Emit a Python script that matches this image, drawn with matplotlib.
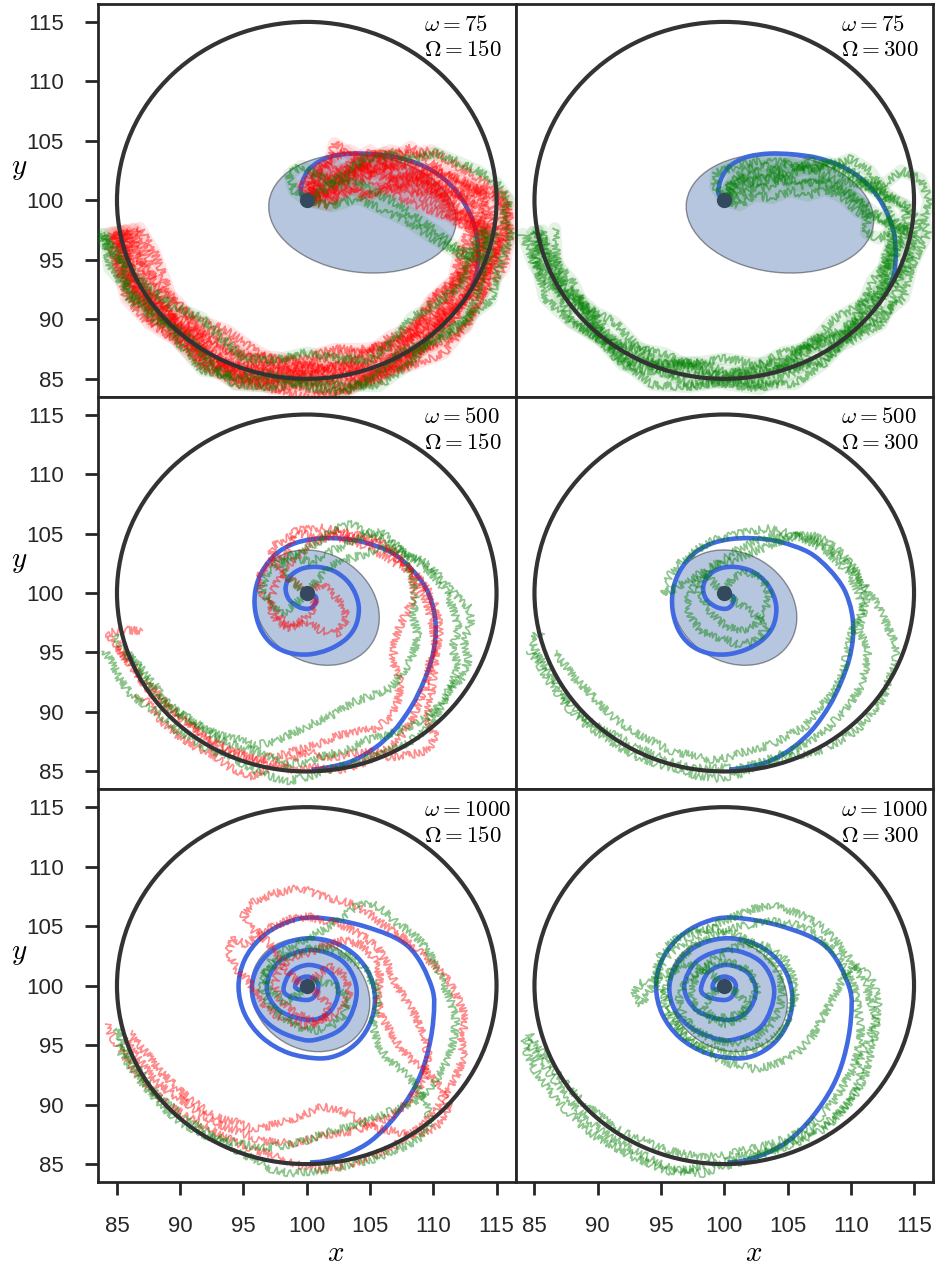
import numpy as np
import matplotlib.pyplot as plt
from matplotlib.patches import Ellipse, PathPatch
from matplotlib.path import Path

plt.rcParams['font.family'] = ['Liberation Sans', 'DejaVu Sans']
plt.rcParams['mathtext.fontset'] = 'cm'

# rows -> omega, columns -> Omega
omegas = [75, 500, 1000]
Omegas = [150, 300]

# target circle and start point
circ_x0, circ_y0, circ_r = 100.0, 100.0, 15.0
start_x, start_y = 100.0, 100.0
lim = (83.5, 116.5)
ticks = [85, 90, 95, 100, 105, 110, 115]

# mean trajectories (one per omega)
spiral75 = [(100.0, 100.0), (99.55, 100.56), (99.66, 101.54), (100.13, 102.53), (100.92, 103.23),
            (101.97, 103.70), (103.55, 103.93), (105.39, 103.87), (107.24, 103.59), (109.08, 102.95),
            (110.66, 101.96), (111.97, 100.56), (112.89, 98.88), (113.42, 97.19), (113.55, 95.51),
            (113.42, 93.83), (113.03, 92.70)]
spiral500 = [(100.0, 100.0), (100.7, 99.7), (100.64, 99.05), (100.17, 98.68), (99.38, 98.82),
             (98.59, 99.47), (98.33, 100.45), (98.72, 101.43), (99.64, 102.05), (100.83, 102.19),
             (102.14, 101.85), (103.20, 101.01), (103.86, 99.89), (104.12, 98.63), (103.86, 97.22),
             (103.07, 96.10), (101.75, 95.26), (100.17, 94.84), (98.59, 94.98), (97.28, 95.68),
             (96.36, 96.94), (95.91, 98.63), (95.96, 100.31), (96.49, 101.85), (97.54, 103.25),
             (98.86, 104.10), (100.43, 104.52), (102.28, 104.60), (104.4, 104.3), (106.71, 103.40),
             (108.29, 101.99), (109.47, 100.31), (110.08, 98.34), (110.18, 96.38), (109.87, 94.42),
             (109.21, 92.45), (108.29, 90.49), (106.97, 88.52), (105.39, 86.98), (103.55, 85.86),
             (101.71, 85.35), (100.39, 85.15)]
spiral1000 = [(100.0, 100.0), (99.5, 99.65), (99.08, 99.9), (99.35, 100.51), (100.0, 100.76),
              (100.65, 100.52), (100.92, 99.95), (100.65, 99.13), (100.0, 98.79), (98.70, 99.06),
              (98.16, 99.7), (98.76, 101.14), (100.2, 101.74), (101.83, 101.10), (102.5, 99.55),
              (101.83, 97.82), (100.2, 97.11), (97.82, 97.93), (96.84, 99.9), (97.88, 102.09),
              (100.4, 103.0), (102.91, 101.97), (103.95, 99.5), (102.97, 96.62), (100.6, 95.43),
              (98.71, 95.76), (97.11, 96.68), (96.04, 98.07), (95.66, 99.7), (96.01, 101.34),
              (97.02, 102.73), (98.52, 103.65), (100.3, 103.98), (102.25, 103.59), (103.90, 102.49),
              (105.0, 100.84), (105.39, 98.9), (105.06, 96.98), (104.10, 95.35), (102.68, 94.26),
              (101.0, 93.88), (98.55, 94.34), (96.48, 95.64), (95.10, 97.60), (94.61, 99.9),
              (95.07, 102.13), (96.38, 104.01), (98.34, 105.28), (100.66, 105.72), (104.6, 104.97),
              (108.03, 103.28), (109.87, 99.9), (110.0, 97.1), (109.47, 94.02), (108.55, 91.5),
              (106.97, 88.97), (105.13, 87.0), (103.29, 85.89), (101.45, 85.27), (100.26, 85.13)]
spirals = [spiral75, spiral500, spiral1000]

# spread ellipses: centre, width, height, angle
ell_x = [104.4, 100.8, 100.28]
ell_y = [98.9, 98.77, 99.21]
ell_w = [14.9, 10.6, 10.1]
ell_h = [9.9, 8.9, 8.8]
ell_ang = [-8, -42, -47.5]

# ---- sample paths ----
# top row: paths leave the centre, then hug the circle; that part is read as angle / radius
band_ang = [350, 340, 330, 320, 310, 300, 290, 280, 270, 260, 250, 240, 230, 220, 210, 200, 190]

red_a_start = [
    [(100, 100), (101.2, 101.6), (102.8, 102.6), (104.3, 101.8), (105.8, 102.9), (107.2, 101.9), (108.8, 101.6), (110.5, 100.6), (112.3, 99.2)],
    [(100, 100), (102, 100.8), (103.5, 103.2), (105, 104.2), (106.5, 102.8), (108, 103.2), (109.5, 102.5), (111.2, 101.8), (113, 100.8), (114.5, 99.5)],
    [(100, 100), (101.5, 100.5), (103, 101.5), (104.5, 100.3), (106, 101), (107.5, 100.2), (109, 99.5), (110.8, 98.8), (112.8, 98.5)],
    [(100, 100), (100.5, 101.8), (101.8, 103.3), (102.2, 104.8), (103.8, 103.6), (105.2, 102.2), (106.8, 103.4), (108.2, 104.5), (109.8, 103.2), (111.2, 102.2), (112.8, 101.4), (114, 100.5)],
    [(100, 100), (101.8, 99.6), (103.2, 100.8), (104.8, 102), (106.2, 100.8), (107.8, 101.4), (109.2, 100.2), (110.6, 99.6), (111.8, 98.2), (113.4, 97.6)],
    [(100, 100), (100.8, 101), (102.2, 101.8), (103.6, 103), (105, 102.6), (106.4, 101.6), (108, 100.6), (109.6, 100.8), (111.2, 100.4), (112.6, 100.6), (114.2, 101), (115.4, 100)],
    [(100, 100), (99.6, 101.2), (100.6, 102.4), (102, 103.6), (103.4, 104.2), (104.8, 103.4), (106.2, 104), (107.6, 103.2), (109, 102.4), (110.2, 101.2), (111.2, 99.8), (112.2, 98.4)],
    [(100, 100), (101.4, 100.2), (102.6, 101.2), (104, 102.4), (105.6, 103.2), (107, 102.4), (108.6, 102), (110, 102.6), (111.6, 102), (113, 101.2), (114.6, 100.4), (116, 99.4)],
    [(100, 100), (100.4, 101), (101.4, 102), (102.8, 101.6), (104.2, 102.6), (105.6, 103.6), (107, 103), (108.4, 102.2), (110, 101.6), (111.6, 100.8), (113, 99.8)],
    [(100, 100), (101.6, 101.2), (103.2, 102), (104.6, 103), (106, 102.2), (107.6, 101.2), (109.2, 101.8), (110.8, 101.2), (112.4, 100.2), (114, 99.2)],
    [(100, 100), (101, 100.6), (102.2, 100.2), (103.6, 101), (105, 100.4), (106.6, 101.4), (108, 102), (109.6, 101), (111, 99.8), (112.4, 98.8), (113.6, 98)],
    [(100, 100), (100.6, 102), (102, 103), (103.4, 102.4), (105, 103.6), (106.6, 104.2), (108.2, 103.8), (109.8, 104.2), (111.4, 103.2), (113, 102.2), (114.6, 101.2), (115.8, 100.2)],
]
red_a_rad = [
    [14.6, 14.0, 14.8, 15.4, 14.6, 13.8, 14.5, 15.2, 14.6, 14.0, 14.8, 15.5, 14.9, 14.2, 14.8, 15.2, 15.0],
    [15.5, 15.9, 15.2, 14.6, 15.3, 16.0, 15.6, 14.9, 15.4, 16.1, 15.5, 14.8, 15.4, 16.0, 15.4, 15.0, 15.6],
    [13.8, 13.3, 13.9, 14.3, 13.6, 13.2, 13.8, 14.4, 13.9, 13.4, 13.9, 14.3, 13.7, 13.3, 13.8, 14.2, 14.0],
    [14.2, 14.9, 15.6, 14.8, 14.1, 14.7, 15.5, 16.0, 15.2, 14.5, 15.1, 15.8, 15.1, 14.4, 15.0, 15.7, 15.2],
    [15.0, 14.3, 13.6, 14.2, 15.0, 15.6, 14.9, 14.1, 14.7, 15.4, 16.0, 15.2, 14.5, 15.2, 15.9, 15.1, 14.6],
    [16.0, 15.4, 14.7, 15.3, 15.8, 15.1, 14.4, 13.9, 14.5, 15.2, 14.6, 13.9, 14.5, 15.3, 14.7, 14.1, 14.6],
    [13.2, 12.8, 13.4, 12.9, 13.5, 14.0, 13.3, 12.7, 13.2, 13.8, 13.1, 12.6, 13.2, 13.7, 13.0, 12.8, 13.4],
    [16.3, 16.6, 15.9, 16.4, 16.8, 16.1, 15.7, 16.3, 16.6, 15.9, 16.4, 16.0, 15.6, 16.2, 16.5, 15.9, 15.4],
    [14.3, 14.8, 14.1, 13.6, 14.2, 14.9, 15.4, 14.7, 14.0, 14.6, 15.3, 14.8, 14.2, 14.7, 15.4, 14.9, 14.4],
    [15.2, 15.7, 15.1, 14.5, 15.0, 15.6, 16.2, 15.5, 14.9, 15.5, 16.0, 15.4, 14.8, 15.5, 16.1, 15.5, 14.9],
    [13.6, 14.2, 13.5, 13.0, 13.6, 14.2, 13.7, 13.1, 13.8, 14.4, 13.9, 13.3, 13.9, 14.5, 13.9, 13.4, 13.8],
    [16.0, 15.4, 16.0, 16.5, 15.8, 15.2, 15.9, 16.4, 15.8, 15.1, 15.7, 16.3, 15.7, 15.0, 15.6, 16.2, 15.8],
]
green_a_start = [
    [(100, 100), (99, 100.8), (98.6, 102.2), (99.6, 102.9), (101, 102), (102.5, 101.3), (104, 101.6), (105.5, 100.6), (107, 99.8), (108.6, 98.6), (110.4, 97.3), (111.6, 96.2), (113, 95.2)],
    [(100, 100), (101.5, 101), (103, 102.2), (104.6, 103.5), (106.5, 103.8), (108.5, 103.5), (110.2, 104), (112, 103.2), (113.5, 102.5), (115, 101.5), (116, 100), (115.5, 98.5)],
    [(100, 100), (102, 99.5), (104, 100.2), (106, 99.2), (108, 98.2), (110, 96.8), (112, 95.5), (114.5, 95)],
]
green_a_rad = [
    [15.2, 14.9, 15.6, 16.3, 15.5, 14.8, 15.7, 16.4, 15.6, 14.9, 15.8, 16.5, 15.7, 15.0, 15.9, 16.6, 16.2],
    [16.4, 16.2, 16.8, 16.0, 15.2, 16.0, 16.6, 15.8, 15.1, 15.9, 16.5, 15.6, 14.8, 15.6, 16.3, 15.5, 16.8],
    [14.2, 13.6, 14.2, 13.4, 12.9, 13.7, 14.3, 13.5, 12.8, 13.6, 14.2, 13.4, 12.9, 13.8, 14.6, 15.4, 16.4],
]
green_b_start = [
    [(100, 100), (100.9, 100.2), (102, 100.9), (103.3, 101.1), (104.6, 101.6), (105.9, 101.7), (107.3, 101.4), (108.6, 101.1), (110, 100.5), (111, 99.6), (111.3, 98.4), (111.2, 97.3), (112.2, 96.8)],
    [(100, 100), (99.3, 101.2), (99.4, 102.3), (100.7, 102.8), (102, 103.1), (103.3, 103.4), (104.6, 103.2), (105.9, 102.8), (107.3, 102.4), (108.6, 101.8), (110, 101.5), (111.5, 101.2), (112.8, 101.5), (114, 102.5), (115.5, 101.8), (116.2, 100), (115.8, 98.5)],
    [(100, 100), (101, 101.5), (102.5, 102.3), (104, 102), (105.5, 102.4), (107, 103.4), (108.5, 102.9), (110, 103.5), (111.5, 102.5), (112.6, 100.8), (113, 99), (113.8, 97.8)],
    [(100, 100), (101.2, 99.6), (102.4, 100.4), (103.8, 100.2), (105.2, 100.8), (106.6, 100.4), (108, 100.9), (109.4, 100.2), (110.6, 99), (111.8, 98.6), (113.2, 98.2)],
    [(100, 100), (100.6, 101.6), (101.8, 102.6), (103.2, 102.9), (104.8, 102.2), (106.4, 102.6), (108, 102.8), (109.6, 102.2), (111, 101.4), (112.4, 100.4), (114.4, 99.6), (115.2, 98.4)],
    [(100, 100), (101, 100.8), (102.4, 101.6), (103.8, 102.4), (105.2, 103.2), (106.8, 102.6), (108.2, 103.2), (109.8, 102.6), (111.2, 101.6), (112.8, 100.6), (114.2, 99.6)],
    [(100, 100), (100.4, 101.2), (101.6, 101.8), (103, 101.4), (104.4, 101.9), (106, 101.2), (107.6, 101.8), (109, 101.2), (110.4, 100.2), (111.6, 99.2), (112.6, 98.4)],
]
green_b_rad = [
    [14.0, 13.6, 14.3, 14.9, 14.2, 13.7, 14.4, 15.0, 14.3, 13.8, 14.6, 15.2, 14.5, 13.9, 14.5, 15.0, 14.6],
    [16.3, 15.8, 16.4, 15.7, 15.1, 15.8, 16.4, 15.7, 15.2, 15.9, 16.5, 15.8, 15.2, 15.9, 16.4, 15.8, 15.4],
    [15.0, 15.6, 15.0, 14.4, 15.1, 15.6, 15.0, 14.5, 15.2, 15.7, 15.1, 14.6, 15.3, 15.8, 15.2, 14.8, 15.3],
    [14.6, 14.1, 13.5, 14.1, 14.7, 14.2, 13.6, 14.2, 14.8, 14.3, 13.7, 14.3, 14.9, 14.3, 13.8, 14.4, 14.9],
    [15.6, 15.1, 15.7, 16.2, 15.5, 14.9, 15.5, 16.1, 15.4, 14.8, 15.4, 16.0, 15.3, 14.7, 15.4, 16.0, 16.2],
    [14.8, 14.2, 14.8, 15.4, 14.7, 14.1, 14.8, 15.5, 14.9, 14.2, 14.9, 15.6, 14.9, 14.3, 15.0, 15.6, 15.0],
    [13.4, 13.9, 14.5, 13.8, 13.2, 13.9, 14.5, 13.9, 13.3, 13.9, 14.6, 14.0, 13.4, 14.1, 14.7, 14.1, 13.6],
]

# middle row (omega = 500)
red_c = [
    [(100, 100), (99.2, 100.8), (98.2, 101.5), (97.4, 102.6), (97.2, 103.8), (98.3, 104.6), (99.5, 105.0), (101, 104.7), (102.5, 105.2), (104, 104.6), (105.5, 104.2), (106.8, 103.2), (108, 102.2), (108.8, 100.8), (109.5, 99.2), (109.9, 97.5), (110.2, 95.8), (109.7, 94), (109.4, 92.2), (108.8, 90.6), (108.2, 89), (107.2, 87.6), (105.8, 86.5), (104.2, 85.6), (102.4, 85.1), (100.6, 85.4), (99, 85.1), (97.3, 85.6), (95.5, 86.2), (93.8, 86.8), (92.2, 87.8), (90.6, 89.0), (89.3, 90.2), (88.2, 91.6), (87, 92.8), (86, 94.2), (85, 95.5), (84.3, 96.6), (85.5, 96.9), (87, 96.8)],
    [(100, 100), (100.8, 99), (99.8, 97.8), (98.5, 97.2), (97.5, 98.5), (96.5, 99.8), (96.2, 101.2), (97, 102.6), (98.5, 103.3), (99, 105.2), (101, 105.5), (103.5, 105), (105.5, 104.5), (107.3, 103.2), (108.3, 101.6), (108.5, 99.6), (107.6, 97.8), (107, 96.2), (106.8, 94.2), (107.4, 92.6), (107.2, 91), (106.6, 89.6), (105.5, 88.6), (104, 88.4), (102.6, 88.1), (101.2, 87.4), (99.6, 86.9), (98, 86.4), (96.4, 86), (94.8, 86.4), (93.2, 87.2), (91.6, 88.2), (90.2, 89.6), (88.8, 90.6), (87.5, 91.8), (86.6, 93.2), (85.6, 94.6), (85, 95.8)],
    [(100, 100), (101.2, 100.8), (102.4, 99.6), (103.2, 98), (102.5, 96.6), (101.2, 96.8), (100, 97.6), (98.8, 97), (97.6, 97.6), (97, 99), (97.5, 100.6), (98.2, 102), (99.2, 103), (100.4, 104.2), (102, 104.8), (103.8, 104.3), (105.5, 103.5), (107, 102.5), (108.6, 101.6), (109.6, 100.2), (110.3, 98.6), (110.5, 96.8), (110.2, 95), (110, 93), (109.8, 91.2), (109.4, 89.4), (110.2, 88), (109.6, 86.8), (108.2, 86.4), (106.6, 86.2), (105, 86.8), (103.4, 86.4), (101.8, 86.2), (100.2, 86.6), (98.6, 86), (97, 85.2), (95.5, 84.6), (94, 85.3), (92.6, 86.4), (91, 87.2), (89.6, 88.2), (88.4, 89.4), (87.6, 90.6), (86.6, 91.6)],
]
green_c = [
    [(100, 100), (99, 99), (98, 98.2), (97.2, 99.2), (96.4, 100.2), (96.8, 101.6), (98, 102.8), (99.4, 103.4), (100.8, 104.2), (102.2, 105.4), (103.6, 105.8), (105, 105), (106.4, 104.4), (107.6, 103.5), (108.8, 102.6), (110, 101.5), (111, 100.2), (111.6, 98.6), (112, 97), (111.5, 95.4), (112, 93.8), (111.4, 92.2), (110.8, 90.8), (110, 89.4), (109, 88.2), (108, 87.4), (106.6, 86.8), (105, 86.2), (103.4, 85.6), (101.8, 85.2), (100.2, 84.6), (98.6, 84.2), (97, 84.6), (95.4, 85.4), (94, 86.2), (92.4, 86.8), (91, 87.6), (89.6, 88.6), (88.4, 89.8), (87.2, 90.6), (86, 91.6), (85.2, 92.8), (84.6, 94.2), (84, 95.2)],
    [(100, 100), (100.8, 101), (101.8, 102.2), (103, 102.8), (104.4, 103.2), (105.8, 103.8), (107.2, 103.6), (108.6, 103), (109.8, 102.2), (110.8, 101), (111.8, 99.8), (112.8, 98.8), (113, 97.4), (112.4, 96), (112.8, 94.4), (112.2, 92.8), (111.2, 91.8), (110.4, 90.4), (109.2, 89.4), (107.8, 88.6), (106.2, 88), (104.6, 87.6), (103.2, 86.8), (101.6, 86.4), (100, 85.8), (98.4, 85.6), (96.8, 86.4), (95.2, 87), (93.6, 87.4), (92.2, 88.4), (90.8, 89.4), (89.4, 90.2), (88.2, 91.4), (87.4, 92.6), (86.6, 94), (85.6, 95.2), (84.8, 96.4)],
    [(100, 100), (98.8, 101), (98, 102.4), (99, 103), (100.4, 102.6), (101.6, 103.4), (103, 104), (104.4, 104.8), (105.8, 105.2), (107, 104.2), (107.8, 102.8), (108.4, 101.2), (108.6, 99.6), (108.4, 98), (108.8, 96.4), (108.4, 94.8), (107.6, 93.2), (106.6, 92), (105.2, 91.4), (103.6, 90.8), (102.2, 89.8), (100.8, 89.2), (99.2, 88.4), (97.6, 87.6), (96, 87.2), (94.4, 87.8), (92.8, 88.2), (91.2, 89), (89.8, 90), (88.6, 91.2), (87.8, 92.6), (86.8, 93.8), (85.8, 94.8)],
]
green_d = [
    [(100, 100), (99.2, 100.8), (98.4, 101.8), (97.4, 101.2), (96.4, 100.6), (95.2, 99.8), (95.6, 101.4), (96.6, 102.6), (97.8, 103.6), (99, 104.4), (100.4, 104.8), (102, 105.2), (103.6, 105.4), (105.2, 105), (106.6, 104.4), (108, 103.6), (109, 102.6), (110, 101.4), (110.6, 100), (111, 98.4), (110.6, 96.8), (111.4, 95.4), (111.2, 93.8), (110.8, 92.2), (110, 90.8), (109, 89.6), (108, 88.4), (106.8, 87.6), (105.4, 86.8), (104, 86.2), (102.4, 85.6), (100.8, 85.2), (99.2, 85.4), (97.6, 85.2), (96, 85.8), (94.4, 86.4), (92.8, 87.2), (91.4, 88), (90, 88.8), (88.6, 89.8), (87.6, 91), (86.8, 92.4), (86, 93.6), (85.2, 94.8), (84.8, 96.2), (85.6, 96.8)],
    [(100, 100), (101, 99.2), (102.2, 98.4), (103.4, 97.2), (102.6, 96), (101.2, 95.6), (99.8, 96.2), (98.4, 96.6), (97.4, 97.8), (97, 99.2), (97.6, 100.6), (98.4, 101.8), (99.6, 102.6), (101, 103.6), (102.6, 104.4), (104.2, 104.8), (105.8, 104.8), (107.2, 104.4), (108.4, 103.6), (109.4, 102.8), (110.4, 101.6), (111.4, 100.2), (112.2, 98.8), (112.8, 97.4), (113.4, 96), (113.6, 94.4), (113, 92.8), (112.6, 91.2), (111.6, 89.8), (110.6, 88.6), (109.2, 87.6), (107.6, 86.8), (106, 86.4), (104.4, 86), (102.8, 85.4), (101.2, 84.8), (99.6, 84.4), (98, 84.6), (96.4, 85.2), (94.8, 85.6), (93.2, 86.2), (91.8, 87), (90.4, 88), (89, 89), (87.8, 90.2), (86.8, 91.6), (86, 92.8), (85.4, 94), (84.6, 95.2)],
    [(100, 100), (100.6, 101.2), (101.8, 101.8), (103, 101.2), (103.6, 99.8), (103.2, 98.4), (102.4, 97.2), (101, 96.8), (99.6, 97.6), (98.6, 98.8), (98, 100.2), (98.4, 101.6), (99.4, 102.4), (100.8, 102.8), (102.2, 103.4), (103.6, 104), (105, 104.6), (106.6, 105), (108, 104.4), (109.2, 103.4), (110.2, 102.2), (111, 100.8), (111.2, 99.2), (110.4, 97.6), (109.8, 96), (109.6, 94.4), (109.2, 92.8), (108.4, 91.4), (107.4, 90.2), (106.4, 88.8), (105, 88), (103.6, 87.2), (102, 86.8), (100.4, 86.2), (98.8, 86), (97.2, 86.4), (95.6, 86.8), (94.2, 87.6), (92.8, 88.4), (91.4, 89.4), (90.2, 90.6), (89.2, 91.8), (88.2, 92.8), (87.4, 94), (86.6, 95)],
]

# bottom row (omega = 1000)
red_e = [
    [(100, 100), (99, 100.6), (98.2, 101.6), (97.6, 102.8), (96.8, 103.8), (95.6, 104.8), (95, 106), (95.8, 107), (97, 107.6), (98.4, 108), (99.6, 108.2), (101, 107.6), (102.4, 107.2), (103.8, 106.8), (105, 106), (106.2, 105), (107.4, 104.2), (108.8, 103), (110, 101.8), (111.2, 100.4), (112, 98.8), (112.6, 97.2), (112.2, 95.6), (112.4, 94), (111.8, 92.4), (111, 91), (110.2, 89.6), (109.2, 88.4), (108, 87.4), (106.8, 86.4), (105.4, 85.8), (104, 85.2), (102.4, 84.8), (100.8, 84.6), (99.2, 85), (97.6, 85.6), (96, 86.2), (94.4, 86.8), (93, 87.6), (91.6, 88.4), (90.2, 89.2), (88.8, 90.2), (87.6, 91.4), (86.6, 92.6), (85.8, 93.8), (85, 95), (84.4, 96.2), (84.2, 96.8)],
    [(100, 100), (101, 99.2), (101.8, 98.2), (101.2, 97), (99.8, 96.6), (98.4, 97), (97.2, 97.8), (96.2, 99), (95.4, 100.4), (94.4, 101.4), (93.8, 102.8), (94.2, 104), (95.2, 103.4), (96.2, 104.4), (97.4, 105), (98.8, 105.6), (100.2, 105.8), (101.6, 105.4), (103, 105), (104.4, 104.2), (105.6, 103.2), (106.4, 101.8), (107, 100.2), (107.8, 98.8), (108.6, 97.4), (109.2, 95.8), (109.6, 94.2), (109.4, 92.6), (108.8, 91.2), (107.8, 90), (106.6, 89), (105.2, 88.4), (103.8, 87.8), (102.2, 87.6), (100.6, 87.2), (99, 86.8), (97.4, 86.8), (95.8, 87.2), (94.4, 87.8), (93, 88.4), (91.6, 89.2), (90.4, 90.2), (89.2, 91), (88, 92), (87.2, 93.2), (86.4, 94.4), (85.6, 95.4)],
    [(100, 100), (100.8, 100.8), (101.8, 101.6), (102.8, 101), (103.4, 99.6), (103, 98.2), (102, 97.4), (100.6, 97), (99.2, 97.6), (98, 98.6), (97.4, 100), (97.8, 101.4), (98.8, 102.4), (100.2, 102.8), (101.6, 103.4), (103, 103.8), (104.4, 103.4), (105.4, 102.2), (105.8, 100.8), (105.6, 99.2), (105.8, 97.6), (106.6, 96.2), (107.4, 94.8), (108.4, 93.6), (109.6, 92.6), (110.6, 91.4), (111.2, 90), (110.8, 88.6), (109.6, 87.8), (108.2, 87.4), (106.8, 87.8), (105.4, 88), (104, 88.8), (102.6, 89.6), (101.2, 89.8), (99.8, 89.2), (98.4, 88.6), (97, 88.2), (95.6, 88), (94.2, 88.6), (92.8, 89), (91.6, 89.8), (90.4, 90.8), (89.4, 91.8), (88.4, 92.8), (87.6, 94), (86.8, 95), (86, 96)],
]
green_e = [
    [(100, 100), (99.2, 99.2), (98.2, 98.6), (97.2, 99.6), (96.6, 100.8), (97.2, 102.2), (98.4, 103), (99.8, 103.8), (101.2, 104.6), (102.6, 105.6), (103.8, 106.6), (105, 107), (106.2, 106.2), (107.2, 105.2), (108.4, 104.4), (109.4, 103.2), (110.2, 101.8), (110.8, 100.2), (111.4, 98.6), (111.8, 97), (111.6, 95.4), (111.2, 93.8), (110.4, 92.4), (109.6, 91.2), (108.4, 90.2), (107, 89.6), (105.6, 89), (104.2, 88.4), (102.8, 88), (101.4, 87.6), (100, 87), (98.4, 86.6), (96.8, 86.4), (95.2, 86.6), (93.8, 87), (92.4, 87.6), (91, 88.4), (89.8, 89.4), (88.6, 90.4), (87.6, 91.6), (86.8, 92.8), (86, 94), (85.4, 95.2), (85, 96.4)],
    [(100, 100), (101, 100.4), (102.2, 100), (103.2, 99), (103, 97.6), (102, 96.6), (100.6, 96.2), (99.2, 96.6), (98, 97.4), (97, 98.4), (96.4, 99.8), (96.8, 101.2), (97.8, 102.2), (99.2, 102.8), (100.6, 103.2), (102, 103), (103.4, 102.4), (104.6, 101.4), (105.4, 100), (105.6, 98.4), (105.2, 96.8), (105.6, 95.2), (106.4, 93.8), (107.6, 92.8), (108.6, 91.6), (109.4, 90.2), (109.8, 88.6), (109.2, 87.4), (108, 86.6), (106.6, 86), (105.2, 85.4), (103.6, 85), (102, 84.6), (100.4, 84.4), (98.8, 84.2), (97.2, 84.6), (95.8, 85.4), (94.4, 86.2), (93, 87), (91.6, 87.6), (90.2, 88.4), (89, 89.4), (88, 90.6), (87, 91.8), (86.2, 93), (85.4, 94.2), (85, 95.4)],
]
green_f = [
    [(100, 100), (99.2, 100.8), (98.2, 101.6), (97, 101.8), (95.8, 101.2), (94.6, 100.4), (93.4, 100.2), (92.8, 99.2), (93.4, 98.4), (94.2, 99.8), (94.8, 101.4), (95.6, 102.6), (96.8, 103.6), (98, 104.4), (99.4, 105.2), (100.8, 105.8), (102.2, 106.4), (103.6, 106.8), (105, 106.4), (106.4, 105.8), (107.6, 105), (108.6, 104), (109.6, 102.8), (110.4, 101.4), (111.2, 100), (111.6, 98.4), (112, 96.8), (111.8, 95.2), (111.4, 93.6), (111, 92), (110.2, 90.6), (109.2, 89.4), (108, 88.4), (106.6, 87.6), (105.2, 86.8), (103.6, 86.2), (102, 85.8), (100.4, 85.4), (98.8, 85), (97.2, 84.6), (95.6, 84.4), (94.2, 85), (92.8, 85.6), (91.4, 86.4), (90, 87.2), (88.8, 88.2), (87.6, 89.4), (86.6, 90.6), (85.8, 91.8), (85, 93), (84.4, 94.4), (84.2, 95.6)],
    [(100, 100), (101, 99.4), (101.8, 98.4), (101.4, 97.2), (100, 96.8), (98.6, 97.2), (97.6, 98.4), (97.4, 100), (98.2, 101.4), (99.4, 102.4), (100.8, 103.2), (102.2, 103.6), (103.6, 103.2), (104.8, 102.2), (105.4, 100.8), (105.6, 99.2), (105.2, 97.6), (104.6, 96.2), (103.4, 95.2), (102, 94.6), (100.6, 94.2), (99.2, 94.6), (97.8, 95.2), (96.6, 96.2), (95.6, 97.4), (95.2, 99), (95.6, 100.6), (96.4, 102), (97.6, 103.4), (99, 104.2), (100.6, 104.8), (102.2, 105.2), (103.8, 105.4), (105.4, 105.2), (106.8, 104.6), (108, 103.6), (109, 102.4), (109.8, 101), (110.4, 99.4), (110.6, 97.8), (110.8, 96.2), (110.6, 94.6), (110.2, 93), (109.4, 91.6), (108.6, 90.2), (107.6, 89), (106.4, 88), (105, 87.2), (103.4, 86.6), (101.8, 86.2), (100.2, 85.8), (98.6, 85.6), (97, 85.8), (95.4, 86.2), (94, 86.8), (92.6, 87.4), (91.2, 88.2), (90, 89.2), (88.8, 90.2), (87.8, 91.4), (86.8, 92.6), (86, 93.8), (85.2, 95), (84.6, 96)],
    [(100, 100), (99, 99.4), (98.4, 98.2), (99.2, 97.2), (100.6, 97.4), (101.8, 98.2), (102.6, 99.6), (102.2, 101), (101, 101.8), (99.6, 102), (98.2, 101.4), (97, 100.4), (96.4, 99), (96.8, 97.4), (97.8, 96.2), (99.2, 95.4), (100.8, 95.2), (102.4, 95.6), (103.6, 96.6), (104.4, 98), (104.6, 99.6), (104.2, 101.2), (103.4, 102.6), (102.2, 103.6), (100.8, 104.4), (99.2, 104.8), (97.6, 104.6), (96.2, 104), (95, 102.8), (94.6, 101.2), (95, 99.6), (95.8, 98), (96.4, 96.4), (97.4, 95.2), (98.8, 94.2), (100.6, 93.4), (102.4, 93), (104.2, 93.4), (105.8, 94.4), (107, 95.8), (107.8, 97.4), (108.6, 99), (109.4, 100.6), (110.4, 101.8), (111.6, 100.6), (112.2, 99), (112, 97.2), (111.4, 95.4), (110.8, 93.6), (110.6, 91.8), (109.8, 90.2), (108.8, 88.8), (107.6, 87.8), (106.2, 87), (104.6, 86.4), (103, 85.8), (101.4, 85.2), (99.8, 84.8), (98.2, 84.2), (96.6, 84.4), (95, 85), (93.6, 85.8), (92.2, 86.6), (90.8, 87.4), (89.6, 88.4), (88.4, 89.6), (87.4, 90.8), (86.6, 92), (85.8, 93.2), (85, 94.4), (84.4, 95.4)],
]

RED = '#ff0000'
GREEN = '#008000'


def band_path(start, radii):
    # start part is x/y, the rest is read as angle / radius round the circle centre
    sx, sy = zip(*start)
    a = np.radians(band_ang)
    bx = circ_x0 + np.array(radii) * np.cos(a)
    by = circ_y0 + np.array(radii) * np.sin(a)
    return np.concatenate([sx, bx]), np.concatenate([sy, by])


def xy(path):
    px, py = zip(*path)
    return np.array(px), np.array(py)


def smooth(pts):
    # draw the read points as a smooth curve (cubic pieces through every point)
    p = np.array(pts, float)
    n = len(p)
    verts, codes = [p[0]], [Path.MOVETO]
    for k in range(n - 1):
        p0 = p[k - 1] if k > 0 else p[k]
        p3 = p[k + 2] if k + 2 < n else p[k + 1]
        verts += [p[k] + (p[k + 1] - p0) / 6, p[k + 1] - (p3 - p[k]) / 6, p[k + 1]]
        codes += [Path.CURVE4] * 3
    return Path(verts, codes)


walks = {(r, c): [] for r in range(3) for c in range(2)}
for s, rad in zip(red_a_start, red_a_rad):
    walks[0, 0].append((RED, *band_path(s, rad)))
for s, rad in zip(green_a_start, green_a_rad):
    walks[0, 0].append((GREEN, *band_path(s, rad)))
for s, rad in zip(green_b_start, green_b_rad):
    walks[0, 1].append((GREEN, *band_path(s, rad)))
for p in red_c:
    walks[1, 0].append((RED, *xy(p)))
for p in green_c:
    walks[1, 0].append((GREEN, *xy(p)))
for p in green_d:
    walks[1, 1].append((GREEN, *xy(p)))
for p in red_e:
    walks[2, 0].append((RED, *xy(p)))
for p in green_e:
    walks[2, 0].append((GREEN, *xy(p)))
for p in green_f:
    walks[2, 1].append((GREEN, *xy(p)))

fig, axes = plt.subplots(3, 2, figsize=(9.36, 12.66), dpi=100, sharex=True, sharey=True)
fig.subplots_adjust(left=0.1047, right=0.9968, top=0.9968, bottom=0.0664, hspace=0, wspace=0)

for i, w in enumerate(omegas):
    for j, W in enumerate(Omegas):
        ax = axes[i, j]
        ax.add_patch(Ellipse((ell_x[i], ell_y[i]), ell_w[i], ell_h[i], angle=ell_ang[i],
                             facecolor='#4c72b0', edgecolor='black', lw=1.0, alpha=0.4, zorder=2))
        ax.add_patch(PathPatch(smooth(spirals[i]), fill=False, edgecolor='royalblue', lw=3.3, zorder=3))
        for col, wx, wy in walks[i, j]:
            if i == 0:
                # dense bundles: faint broad stroke under each jagged path
                ax.plot(wx, wy, color=col, lw=9, alpha=0.1, zorder=4,
                        solid_joinstyle='round', solid_capstyle='round')
                ln, = ax.plot(wx, wy, color=col, lw=1.3, alpha=0.45, zorder=4)
                ln.set_sketch_params(scale=4, length=3, randomness=8)
            else:
                ln, = ax.plot(wx, wy, color=col, lw=1.2, alpha=0.45, zorder=4)
                ln.set_sketch_params(scale=4, length=2, randomness=14)
        ax.add_patch(plt.Circle((circ_x0, circ_y0), circ_r, fill=False, color='#333333', lw=3, zorder=5))
        ax.plot(start_x, start_y, 'o', color='#34495e', ms=10, zorder=6)

        ax.text(0.78, 0.978, r'$\omega=%d$' % w + '\n' + r'$\Omega=%d$' % W, transform=ax.transAxes,
                ha='left', va='top', fontsize=16.5, linespacing=1.15, zorder=7)

        ax.set_xlim(lim)
        ax.set_ylim(lim)
        ax.set_xticks(ticks)
        ax.set_yticks(ticks)
        ax.tick_params(direction='out', length=9.5, width=2, colors='#262626', labelsize=16, pad=15)
        for sp in ax.spines.values():
            sp.set_linewidth(2)
            sp.set_color('#262626')
        if i < 2:
            ax.tick_params(bottom=False)
        else:
            ax.set_xlabel('$x$', fontsize=21)
            ax.xaxis.set_label_coords(0.57, -0.145)
        if j == 1:
            ax.tick_params(left=False)
        else:
            ax.set_ylabel('$y$', fontsize=21, rotation=0, ha='center', va='center')
            ax.yaxis.set_label_coords(-0.19, 0.582)

fig.savefig('out.png', dpi=100)
